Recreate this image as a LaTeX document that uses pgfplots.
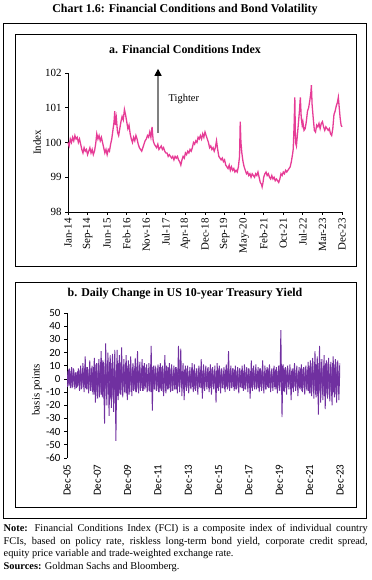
\documentclass[border=0pt]{standalone}
\usepackage{fontspec}
\setmainfont{Liberation Serif}
\newfontfamily\carlito{Carlito}
\usepackage{pgfplots}
\pgfplotsset{compat=1.18}
\usetikzlibrary{arrows.meta}
\definecolor{fcipink}{RGB}{230,60,150}
\definecolor{bondpurple}{RGB}{112,48,160}

\pgfplotstableread{
m v
0 100.0
0.5 99.9
1 100.1
1.5 100.0
2 100.15
2.5 100.05
3 100.2
3.5 100.1
4 100.15
4.5 100.0
5 100.1
5.5 99.95
6 99.8
6.5 99.7
7 99.85
7.5 99.75
8 99.8
8.5 99.65
9 99.75
9.5 99.85
10 99.7
10.5 99.8
11 99.65
11.5 99.75
12 99.95
12.5 100.25
13 100.1
13.5 100.2
14 100.05
14.5 100.15
15 100.0
15.5 99.85
16 99.7
16.5 99.8
17 99.65
17.5 99.8
18 99.75
18.5 99.95
19 100.1
19.5 100.35
20 100.6
20.3 100.9
20.6 100.5
21 100.7
21.5 100.3
22 100.2
22.5 100.4
23 100.6
23.5 100.75
24 100.65
24.5 100.95
25 100.8
25.5 100.6
26 100.4
26.5 100.5
27 100.25
27.5 100.1
28 100.0
28.5 100.15
29 100.05
29.5 100.2
30 100.1
30.5 99.95
31 99.85
31.5 99.8
32 99.75
32.5 99.85
33 99.95
33.5 100.05
34 100.1
34.5 100.2
35 100.15
35.5 100.3
36 100.15
36.5 100.45
37 100.05
37.5 99.95
38 99.9
38.5 99.85
39 99.95
39.5 99.8
40 99.85
40.5 99.9
41 99.8
41.5 99.85
42 99.75
42.5 99.7
43 99.7
43.5 99.6
44 99.65
44.5 99.6
45 99.55
45.5 99.6
46 99.5
46.5 99.6
47 99.55
47.5 99.6
48 99.5
48.5 99.45
49 99.35
49.5 99.5
50 99.6
50.5 99.55
51 99.7
51.5 99.65
52 99.75
52.5 99.7
53 99.8
53.5 99.75
54 99.85
54.5 100.0
55 99.95
55.5 100.05
56 100.0
56.5 100.15
57 100.1
57.5 100.2
58 100.1
58.5 100.25
59 100.15
59.5 100.3
60 100.2
60.5 100.1
61 100.0
61.5 99.85
62 99.9
62.5 99.8
63 99.85
63.5 99.75
64 99.85
64.5 100.05
65 99.8
65.5 99.6
66 99.55
66.5 99.5
67 99.55
67.5 99.45
68 99.5
68.5 99.35
69 99.3
69.5 99.25
70 99.35
70.5 99.2
71 99.3
71.5 99.2
72 99.25
72.5 99.15
73 99.2
73.5 99.15
74 99.3
74.5 99.6
74.8 100.6
75.1 100.0
75.5 99.7
76 99.45
76.5 99.3
77 99.2
77.5 99.1
78 99.15
78.5 99.05
79 99.1
79.5 99.0
80 99.1
80.5 99.05
81 99.0
81.5 99.1
82 99.05
82.5 99.15
83 99.0
83.5 98.85
84 98.8
84.3 98.72
84.7 98.85
85 99.0
85.5 99.1
86 99.15
86.5 99.05
87 99.1
87.5 99.0
88 98.95
88.5 99.05
89 98.95
89.5 99.0
90 98.9
90.5 98.95
91 98.9
91.5 98.85
92 98.95
92.5 99.1
93 99.05
93.5 99.15
94 99.1
94.5 99.2
95 99.15
95.5 99.2
96 99.25
96.5 99.3
97 99.45
97.5 99.65
97.8 99.8
98.2 100.5
98.5 101.3
98.8 100.0
99.2 99.9
99.6 100.2
100 100.5
100.5 100.9
100.9 101.3
101.3 100.7
101.7 100.5
102 100.6
102.5 100.35
103 100.4
103.5 100.6
104 100.9
104.5 101.0
105 101.2
105.5 101.45
105.7 101.65
106 101.1
106.5 100.7
107 100.35
107.5 100.3
108 100.5
108.5 100.45
109 100.55
109.5 100.4
110 100.55
110.5 100.6
111 100.45
111.5 100.35
112 100.45
112.5 100.4
113 100.35
113.5 100.4
114 100.25
114.5 100.2
115 100.4
115.5 100.8
116 100.9
116.5 101.05
117 101.15
117.4 101.3
117.8 101.0
118.2 100.7
118.6 100.5
119 100.45
}\fcidata

\begin{document}
\begin{tikzpicture}[x=1bp,y=1bp]
\useasboundingbox (0,0) rectangle (371,580);
\node[font=\bfseries\fontsize{12}{14}\selectfont] at (185,570) {Chart 1.6: Financial Conditions and Bond Volatility};
\draw[line width=0.9bp] (3,62) rectangle (366,557);
\draw[line width=0.9bp] (15,314) rectangle (356,546);
\draw[line width=0.9bp] (15,73) rectangle (356,298);
\node[font=\bfseries\fontsize{12}{14}\selectfont] at (185,531) {a. Financial Conditions Index};
\node[font=\bfseries\fontsize{12}{14}\selectfont] at (185,286) {b. Daily Change in US 10-year Treasury Yield};

\begin{axis}[
  at={(68bp,368bp)}, anchor=south west,
  width=274bp, height=139bp, scale only axis,
  xmin=0, xmax=119, ymin=98, ymax=102,
  axis x line*=bottom, axis y line*=left,
  axis line style={-, line width=0.8bp},
  tick style={black, line width=0.8bp},
  tick align=outside, major tick length=3bp,
  xtick={0,8.5,17,25.5,34,42.5,51,59.5,68,76.5,85,93.5,102,110.5,119},
  xticklabels={Jan-14,Sep-14,Jun-15,Feb-16,Nov-16,Jul-17,Apr-18,Dec-18,Sep-19,May-20,Feb-21,Oct-21,Jul-22,Mar-23,Dec-23},
  x tick label style={rotate=90, anchor=east, font=\fontsize{11}{12}\selectfont},
  ytick={98,99,100,101,102},
  y tick label style={font=\fontsize{11}{12}\selectfont},
  /pgf/number format/assume math mode=true,
  ylabel={Index},
  ylabel style={at={(axis description cs:-0.113,0.5)}, anchor=center, font=\fontsize{11}{12}\selectfont},
  clip=false,
]
\addplot[fcipink, line width=1.3bp] table[x=m, y=v] {\fcidata};
\draw[-{Triangle[length=7bp,width=7bp,color=black]}, line width=1.3bp, gray] (axis cs:39.1,100.27) -- (axis cs:39.1,102.12);
\node[anchor=west, font=\fontsize{10.5}{11}\selectfont] at (axis cs:42.2,101.25) {Tighter};
\end{axis}

\begin{axis}[
  at={(67bp,122bp)}, anchor=south west,
  width=273bp, height=145bp, scale only axis,
  xmin=0, xmax=18, ymin=-60, ymax=50,
  axis x line*=bottom, axis y line*=left,
  axis line style={-, line width=0.8bp},
  x axis line style={draw=none},
  tick style={black, line width=0.8bp},
  major x tick style={draw=none},
  tick align=outside, major tick length=3bp,
  xtick={0,2,4,6,8,10,12,14,16,18},
  xticklabels={Dec-05,Dec-07,Dec-09,Dec-11,Dec-13,Dec-15,Dec-17,Dec-19,Dec-21,Dec-23},
  x tick label style={rotate=90, anchor=east, font=\carlito\fontsize{11}{12}\selectfont},
  ytick={-60,-50,-40,-30,-20,-10,0,10,20,30,40,50},
  y tick label style={font=\carlito\fontsize{11}{12}\selectfont},
  /pgf/number format/assume math mode=true,
  ylabel={basis points},
  ylabel style={at={(axis description cs:-0.11,0.47)}, anchor=center, font=\fontsize{11}{12}\selectfont},
]
\addplot[bondpurple, line width=1bp] table[row sep=\\, header=false, x expr=\coordindex*0.075+0.0375, y index=0] {
-6\\ 7\\ -5\\ 6\\ -7\\ 8\\ -6\\ 5\\ -7\\ 6\\ -5\\ 7\\ -8\\ 7\\ -6\\ 8\\ -7\\ 9\\ -8\\ 7\\ -9\\ 8\\ -10\\ 9\\
-12\\ 11\\ -13\\ 12\\ -14\\ 13\\ -12\\ 14\\ -15\\ 12\\ -13\\ 14\\ -12\\ 13\\ -15\\ 12\\ -14\\ 13\\ -12\\ 11\\ -13\\ 12\\ -11\\ 13\\ -12\\ 11\\ -10\\ 12\\ -11\\ 10\\ -12\\ 11\\ -10\\ 9\\
-9\\ 8\\ -10\\ 9\\ -8\\ 10\\ -9\\ 8\\ -9\\ 10\\ -8\\ 9\\ -10\\ 8\\ -9\\ 11\\ -10\\ 9\\ -8\\ 10\\ -9\\ 8\\ -10\\ 9\\ -8\\ 9\\ -10\\ 8\\ -9\\ 10\\ -8\\ 9\\ -7\\ 8\\ -9\\ 7\\ -8\\ 9\\ -8\\
7\\ -6\\ 8\\ -7\\ 6\\ -8\\ 7\\ -6\\ 8\\ -7\\ 6\\ -7\\ 8\\ -6\\ 7\\ -8\\ 6\\ -7\\ 8\\ -6\\
7\\ -7\\ 6\\ -8\\ 7\\ -6\\ 8\\ -7\\ 6\\ -7\\ 8\\ -6\\ 7\\ -8\\ 6\\ -7\\ 8\\ -6\\ 7\\ -7\\
6\\ -8\\ 7\\ -6\\ 8\\ -7\\ 6\\ -7\\ 8\\ -6\\ 7\\ -8\\ 6\\ -7\\ 8\\ -6\\ 7\\ -7\\ 6\\ -8\\
7\\ -6\\ 8\\ -7\\ 6\\ -7\\ 8\\ -6\\ 7\\ -8\\ 6\\ -7\\ 8\\ -6\\ 7\\ -7\\ 6\\ -8\\ 7\\ -6\\
8\\ -7\\ 6\\ -7\\ 8\\ -6\\ 7\\ -8\\ 6\\ -7\\
8\\ -9\\ 10\\ -9\\ 8\\
-7\\ 8\\ -6\\ 7\\ -8\\ 6\\ -7\\ 8\\ -6\\ 7\\ -8\\ 6\\ -7\\ 8\\ -9\\ 8\\ -7\\ 9\\ -8\\ 7\\ -9\\ 10\\
-11\\ 12\\ -10\\ 13\\ -12\\ 11\\ -13\\ 12\\ -11\\ 13\\ -12\\ 10\\ -13\\ 12\\ -11\\ 13\\ -12\\ 11\\ -13\\ 12\\ -10\\ 11\\ -12\\ 13\\ -11\\ 10\\
};
\addplot[bondpurple, line width=0.9bp] table[row sep=\\, header=false, x expr=\coordindex*0.075, y index=0] {
6\\ -5\\ 8\\ -7\\ 9\\ -6\\ 7\\ -8\\ 5\\ -6\\
8\\ -9\\ 10\\ -7\\ 12\\ -10\\ 17\\ -8\\ 9\\ -11\\ 14\\ -9\\ 10\\ -12\\ 16\\
-18\\ 12\\ -15\\
15\\ -12\\ 21\\ -14\\ 13\\
-34\\ 27\\
-20\\ 20\\ -28\\ 18\\ -22\\ 19\\ -25\\
22\\ -47\\
22\\ -16\\ 18\\ -12\\ 24\\ -14\\ 15\\ -11\\ 18\\ -16\\ 14\\ -10\\ 17\\ -13\\
12\\ -8\\ 16\\ -10\\ 21\\ -11\\ 13\\ -7\\ 15\\ -9\\ 12\\ -6\\
11\\ -9\\ 12\\ -10\\ 25\\ -24\\ 10\\ -8\\
9\\ -8\\ 11\\ -10\\ 12\\ -9\\ 10\\ -13\\ 18\\ -11\\ 9\\ -8\\ 12\\ -10\\ 11\\ -9\\ 10\\ -8\\ 9\\
-11\\ 25\\ -10\\ 23\\ -13\\ 12\\ -16\\ 10\\
-9\\ 10\\ -11\\ 9\\ -8\\ 12\\ -10\\ 11\\ -9\\ 8\\ -12\\ 10\\ -7\\ 15\\ -15\\ 11\\ -9\\ 10\\ -8\\ 9\\ -10\\ 11\\ -12\\ 9\\ -8\\ 10\\ -18\\ 12\\ -9\\ 10\\ -11\\ 8\\ -7\\ 9\\ -10\\ 11\\
-8\\ 21\\ -9\\ 10\\ -7\\ 8\\
-9\\ 10\\ -8\\ 9\\ -11\\ 8\\ -7\\ 10\\ -9\\ 11\\ -8\\ 9\\ -10\\ 8\\ -15\\ 14\\ -9\\ 10\\ -8\\ 11\\ -7\\ 9\\ -10\\ 8\\ -9\\ 14\\ -11\\ 10\\ -8\\ 9\\ -7\\ 11\\ -10\\ 8\\ -9\\ 10\\ -8\\ 9\\ -11\\ 10\\
-9\\ 37\\ -29\\ 11\\ -10\\
9\\ -12\\ 10\\ -8\\ 11\\ -16\\ 8\\ -10\\ 12\\ -9\\ 10\\ -13\\ 9\\ -8\\ 11\\ -10\\ 9\\ -12\\ 10\\ -9\\ 13\\ -11\\
14\\ -13\\ 16\\ -15\\ 21\\ -14\\ 17\\ -27\\ 25\\ -18\\ 15\\ -16\\ 18\\ -23\\ 14\\ -15\\ 16\\ -17\\ 13\\ -20\\ 17\\ -14\\ 15\\ -18\\ 14\\ -16\\ 12\\
};
\end{axis}

\node[anchor=north west, text width=364bp, align=justify, inner sep=0pt, font=\fontsize{10.4}{12.5}\selectfont] at (3.5,55.5) {\textbf{Note:} Financial Conditions Index (FCI) is a composite index of individual country\linebreak FCIs, based on policy rate, riskless long-term bond yield, corporate credit spread,\linebreak equity price variable and trade-weighted exchange rate.\\ \textbf{Sources:} Goldman Sachs and Bloomberg.};
\end{tikzpicture}
\end{document}
